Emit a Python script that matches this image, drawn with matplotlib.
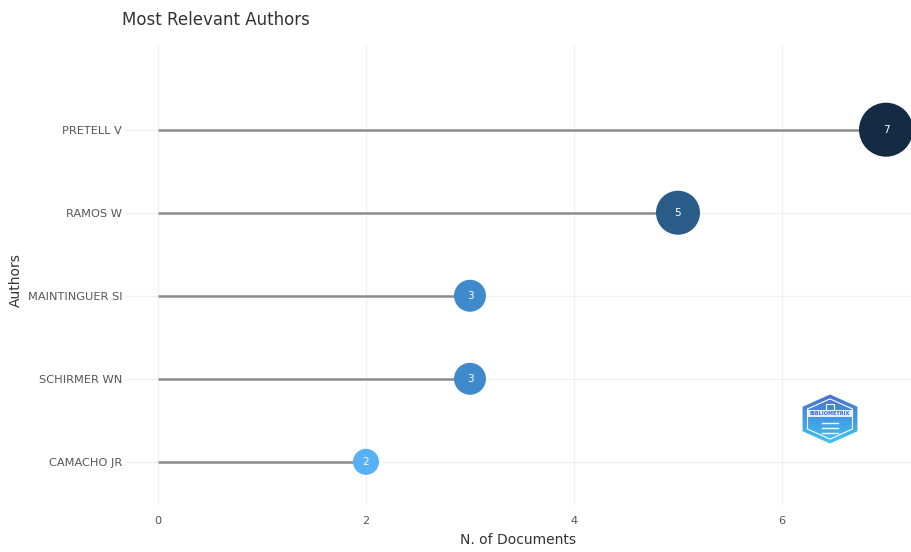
import matplotlib
matplotlib.use("Agg")
import matplotlib.pyplot as plt
import numpy as np
from matplotlib.patches import Polygon
from matplotlib.colors import LinearSegmentedColormap

authors = ["CAMACHO JR", "SCHIRMER WN", "MAINTINGUER SI", "RAMOS W", "PRETELL V"]
docs = [2, 3, 3, 5, 7]
colors = ["#56B1F7", "#3F8ACB", "#3F8ACB", "#2A5C8A", "#132B43"]
sizes = [351, 530, 530, 1004, 1512]
xticks = [0, 2, 4, 6]

plt.rcParams['font.family'] = ['DejaVu Sans']
fig = plt.figure(figsize=(9.12, 5.52), dpi=100)
ax = fig.add_axes([125/912, 47/552, 787/912, 460/552])
ypos = np.arange(len(authors))

for y, v in zip(ypos, docs):
    ax.plot([0, v], [y, y], color="#8C8C8C", lw=1.8, zorder=2, solid_capstyle='butt')
ax.scatter(docs, ypos, s=sizes, c=colors, zorder=3, edgecolors='none')
for y, v in zip(ypos, docs):
    ax.text(v, y, str(v), color="white", fontsize=7.5, ha='center', va='center', zorder=4)

ax.set_xlim(-0.317, 7.25)
ax.set_ylim(-0.52, 5.02)
ax.set_xticks(xticks)
ax.set_xticklabels([str(t) for t in xticks])
ax.set_yticks(ypos)
ax.set_yticklabels(authors)
ax.grid(True, color="#F0F0F0", lw=1, zorder=0)
ax.set_axisbelow(True)
for s in ax.spines.values():
    s.set_visible(False)
ax.tick_params(axis='both', length=0, colors="#555555", labelsize=8.2)
ax.tick_params(axis='y', pad=2)
ax.tick_params(axis='x', pad=8)
ax.set_xlabel("N. of Documents", fontsize=10, color="#333333", labelpad=5)
fig.text(16/912, 1 - 280/552, "Authors", rotation=90, fontsize=10, color="#333333",
         ha='center', va='center')
fig.text(122/912, 1 - 20/552, "Most Relevant Authors", fontsize=12, color="#333333",
         ha='left', va='center')

# logo
lax = fig.add_axes([802/912, 1 - 444/552, 56/912, 50/552])
lax.set_xlim(-1.0, 1.0)
lax.set_ylim(-1.0, 1.0)
lax.axis('off')
ang = np.deg2rad(np.arange(90, 450, 60))
hx, hy = np.cos(ang) / np.cos(np.deg2rad(30)) * 0.98, np.sin(ang) * 0.98
grad = np.linspace(0, 1, 100).reshape(-1, 1)
cmap = LinearSegmentedColormap.from_list("g", ["#3FC6F2", "#4A6FD0"])
im = lax.imshow(grad, extent=[-1, 1, -1, 1], origin='lower', cmap=cmap, aspect='auto')
hexp = Polygon(np.column_stack([hx, hy]), closed=True, transform=lax.transData,
               facecolor='none', edgecolor='none')
lax.add_patch(hexp)
im.set_clip_path(hexp)
inner = Polygon(np.column_stack([hx*0.82, hy*0.82]), closed=True, facecolor='none',
                edgecolor='white', lw=0.8)
lax.add_patch(inner)
lax.add_patch(plt.Rectangle((-0.8, 0.1), 1.6, 0.26, facecolor='white', edgecolor='none', alpha=0.85))
lax.text(0, 0.23, "BIBLIOMETRIX", fontsize=3.6, color="#3A6BC8", ha='center', va='center', weight='bold')
for yy in [-0.15, -0.35, -0.55]:
    lax.plot([-0.3, 0.3], [yy, yy], color='white', lw=1)
lax.plot([-0.15, -0.15, 0.15, 0.15], [0.36, 0.6, 0.6, 0.36], color='white', lw=0.8)

fig.savefig("out.png", dpi=100, facecolor='white')
